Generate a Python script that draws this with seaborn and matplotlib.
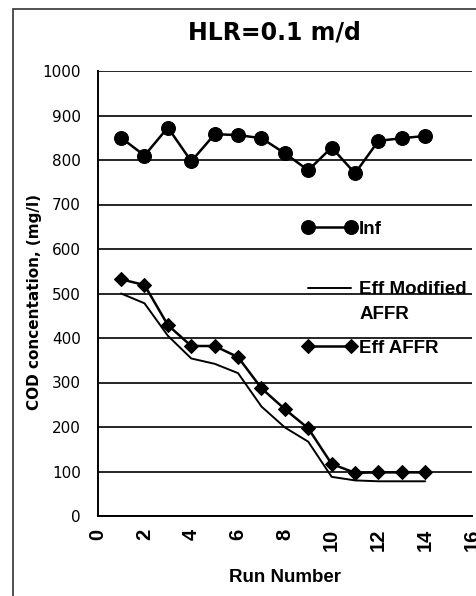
import matplotlib
matplotlib.use("Agg")
import matplotlib.pyplot as plt
import seaborn as sns
import pandas as pd
from matplotlib.patches import Rectangle
from matplotlib.transforms import Affine2D

# values
runs = list(range(1, 15))
inf = [850, 810, 873, 797, 858, 856, 849, 815, 777, 828, 770, 843, 849, 854]
eff_modified = [500, 478, 405, 354, 342, 321, 246, 199, 167, 88, 80, 78, 78, 78]
eff_affr = [532, 519, 429, 382, 382, 357, 287, 240, 197, 117, 97, 98, 98, 98]
x_ticks = list(range(0, 17, 2))
y_ticks = list(range(0, 1001, 100))

df = pd.DataFrame({"run": runs, "Inf": inf,
                   "Eff Modified\nAFFR": eff_modified, "Eff AFFR": eff_affr})

sns.set_style("white")
plt.rcParams["font.family"] = ["DejaVu Sans"]
plt.rcParams["text.color"] = "black"
plt.rcParams["axes.labelcolor"] = "black"
plt.rcParams["xtick.color"] = "black"
plt.rcParams["ytick.color"] = "black"

fig = plt.figure(figsize=(4.77, 5.96), dpi=100)
ax = fig.add_axes([97.7 / 477, 1 - 516 / 596, (472 - 97.7) / 477, (516 - 71) / 596])

sns.lineplot(data=df, x="run", y="Inf", ax=ax, color="black", lw=1.8,
             marker="o", markersize=10, markeredgecolor="black", label="Inf")
sns.lineplot(data=df, x="run", y="Eff Modified\nAFFR", ax=ax, color="black",
             lw=1.4, label="Eff Modified\nAFFR")
sns.lineplot(data=df, x="run", y="Eff AFFR", ax=ax, color="black", lw=1.8,
             marker="D", markersize=7.5, markeredgecolor="black", label="Eff AFFR")

ax.set_xlim(0, 16)
ax.set_ylim(0, 1000)
ax.set_xticks(x_ticks)
ax.set_xticklabels([str(v) for v in x_ticks], rotation=90,
                   family="Liberation Sans", fontsize=14.5, fontweight="bold")
ax.set_yticks(y_ticks)
ax.set_yticklabels([str(v) for v in y_ticks], fontsize=11)
ax.tick_params(axis="y", length=5, width=1.2, pad=7)
ax.tick_params(axis="x", length=0, pad=9)
ax.yaxis.grid(True, color="black", lw=1.2)
ax.set_axisbelow(True)
for s in ["top", "right"]:
    ax.spines[s].set_visible(False)
for s in ["left", "bottom"]:
    ax.spines[s].set_color("black")
    ax.spines[s].set_linewidth(1.4)

ax.set_xlabel("Run Number", family="Liberation Sans", fontsize=13.5, fontweight="bold")
ax.xaxis.set_label_coords(0.5, -(569 - 516) / 445)
ax.set_ylabel("COD concentation, (mg/l)", fontsize=11, fontweight="bold")
ax.yaxis.set_label_coords(-(97.7 - 42) / 374.3, 1 - (302 - 71) / 445)
fig.text(274 / 477, 1 - 33 / 596, "HLR=0.1 m/d", fontsize=17, fontweight="bold",
         ha="center", va="center")

# Excel-style legend placed inside the plot, split in two blocks
handles, labels = ax.get_legend_handles_labels()
ax.get_legend().remove()
leg_prop = {"family": "Liberation Sans", "weight": "bold", "size": 13.5}
leg_kw = dict(bbox_transform=fig.transFigure, frameon=False, prop=leg_prop,
              handlelength=2.9, handletextpad=0.15, borderpad=0,
              borderaxespad=0, numpoints=2)
leg1 = ax.legend(handles[:1], labels[:1], loc="center left",
                 bbox_to_anchor=(302 / 477, 1 - 229 / 596), **leg_kw)
ax.add_artist(leg1)
leg2 = ax.legend(handles[1:], labels[1:], loc="upper left", labelspacing=0.91,
                 bbox_to_anchor=(302 / 477, 1 - 281 / 596), **leg_kw)
leg2.get_texts()[0].set_linespacing(1.6)
mod_line = leg2.get_lines()[0]
mod_line.set_transform(mod_line.get_transform() + Affine2D().translate(0, 14))

fig.patches.append(Rectangle((13 / 477, -0.1), 1.2, 1 - 9 / 596 + 0.1,
                             transform=fig.transFigure, fill=False,
                             edgecolor="#333333", lw=1.2))

fig.savefig("out.png", dpi=100)
